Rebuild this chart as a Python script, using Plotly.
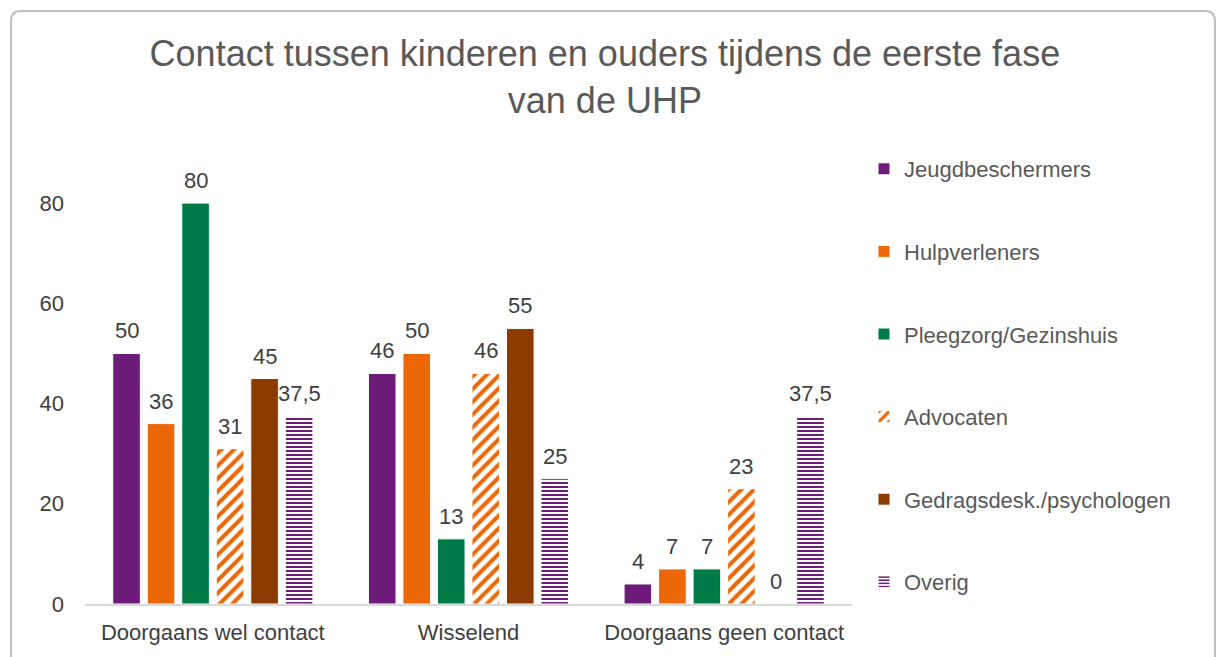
import plotly.graph_objects as go

categories = ["Doorgaans wel contact", "Wisselend", "Doorgaans geen contact"]
series_names = ["Jeugdbeschermers", "Hulpverleners", "Pleegzorg/Gezinshuis",
                "Advocaten", "Gedragsdesk./psychologen", "Overig"]
jeugdbeschermers = [50, 46, 4]
hulpverleners = [36, 50, 7]
pleegzorg = [80, 13, 7]
advocaten = [31, 46, 23]
gedragsdesk = [45, 55, 0]
overig = [37.5, 25, 37.5]
y_ticks = [0, 20, 40, 60, 80]

values = [jeugdbeschermers, hulpverleners, pleegzorg, advocaten, gedragsdesk, overig]
colors = ["#6E1C7A", "#EC6707", "#007A47", "#EC6707", "#8B3A00", "#6E1C7A"]
patterns = [None, None, None, "/", None, "-"]

def fmt(v):
    s = ("%g" % v)
    return s.replace(".", ",")

FONT = "Liberation Sans"
n = len(series_names)
group_w = 0.81
slot = group_w / n
bar_w = slot * 0.8
xpos = list(range(len(categories)))

fig = go.Figure()
annotations = []
for i, (name, vals) in enumerate(zip(series_names, values)):
    off = -group_w / 2 + slot * i + (slot - bar_w) / 2
    if patterns[i] is None:
        marker = dict(color=colors[i], line=dict(color="white", width=1))
    else:
        marker = dict(color="white",
                      line=dict(color="white", width=1),
                      pattern=dict(shape=patterns[i], fgcolor=colors[i], bgcolor="white",
                                   size=(9 if patterns[i] == "/" else 4),
                                   solidity=(0.45 if patterns[i] == "/" else 0.5),
                                   fillmode="replace"))
    fig.add_trace(go.Bar(
        x=xpos, y=vals, name=name, marker=marker,
        width=bar_w, offset=off,
        legendgroup=name, hovertemplate="%{y}<extra>" + name + "</extra>",
    ))
    for xi, v in zip(xpos, vals):
        annotations.append(dict(
            x=xi + off + bar_w / 2, y=v, xref="x", yref="y",
            text=fmt(v), showarrow=False, yanchor="bottom", xanchor="center",
            yshift=8, font=dict(size=22, color="#404040", family=FONT)))

L, R, T, B = 85, 370, 153, 53
W, H = 1222, 657
pw, ph = W - L - R, H - T - B

def px_x(p):
    return (p - L) / pw

def px_y(p):
    return (H - B - p) / ph

# rounded border path in pixel space converted to paper coords
bx0, bx1, by0, by1, rr = 11, 1215, 11, 700, 10
def P(x, y):
    return "%.5f,%.5f" % (px_x(x), px_y(y))
border_path = ("M " + P(bx0 + rr, by0) + " L " + P(bx1 - rr, by0) +
               " Q " + P(bx1, by0) + " " + P(bx1, by0 + rr) +
               " L " + P(bx1, by1) + " L " + P(bx0, by1) +
               " L " + P(bx0, by0 + rr) +
               " Q " + P(bx0, by0) + " " + P(bx0 + rr, by0) + " Z")

fig.update_layout(
    width=W, height=H,
    margin=dict(l=L, r=R, t=T, b=B, autoexpand=False),
    paper_bgcolor="white", plot_bgcolor="white",
    barmode="overlay",
    title=dict(text="Contact tussen kinderen en ouders tijdens de eerste fase<br>van de UHP",
               x=0.495, xanchor="center", y=1 - 66 / H, yanchor="middle",
               font=dict(size=36, color="#595959", family=FONT)),
    font=dict(family=FONT, color="#595959"),
    legend=dict(x=px_x(864), xanchor="left", y=px_y(148), yanchor="top",
                font=dict(size=22, color="#595959", family=FONT),
                tracegroupgap=51, itemwidth=30, maxheight=620,
                bgcolor="rgba(0,0,0,0)"),
    xaxis=dict(range=[-0.5, len(categories) - 0.5], tickvals=xpos, ticktext=categories,
               showline=True, linecolor="#D9D9D9", linewidth=1.5, ticks="",
               showgrid=False, zeroline=False, ticklabelstandoff=8,
               tickfont=dict(size=22, color="#404040", family=FONT)),
    yaxis=dict(range=[0, 90], tickvals=y_ticks, showgrid=False, zeroline=False,
               showline=False, ticklabelstandoff=20,
               tickfont=dict(size=22, color="#404040", family=FONT)),
    annotations=annotations,
    shapes=[dict(type="path", xref="paper", yref="paper", path=border_path,
                 line=dict(color="#BFBFBF", width=2), fillcolor="rgba(0,0,0,0)", layer="below")],
)

fig.write_html("out.html", config={"displayModeBar": False},
               post_script="document.body.style.margin='0';document.body.style.overflow='hidden';")
